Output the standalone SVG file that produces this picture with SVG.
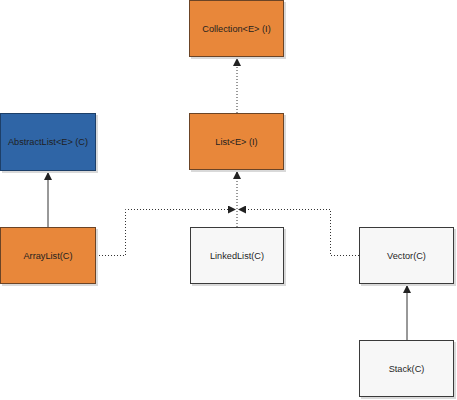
<svg xmlns="http://www.w3.org/2000/svg" width="457" height="400" viewBox="0 0 457 400">
<style>
.sh{fill:#d9d9d9;}
.or{fill:#E8873A;stroke:#6b4426;stroke-width:1;}
.bl{fill:#2F65A6;stroke:#1d3f68;stroke-width:1;}
.wh{fill:#f7f7f7;stroke:#3a3a3a;stroke-width:1;}
text{font-family:"Liberation Sans",Arial,sans-serif;font-size:9.2px;text-anchor:middle;dominant-baseline:central;fill:#1f1f1f;}
.c{fill:none;stroke:#333;stroke-width:1;}
.d{stroke-dasharray:1 2;}
</style>
<defs>
<marker id="ah" viewBox="0 0 10 10" refX="10" refY="5" markerWidth="8" markerHeight="8" markerUnits="userSpaceOnUse" orient="auto">
<path d="M0,0 L10,5 L0,10 z" fill="#222"/>
</marker>
</defs>
<rect width="457" height="400" fill="#fff"/>
<g id="connectors">
<path class="c d" d="M237,113 V58" marker-end="url(#ah)"/>
<path class="c" d="M48,227 V172" marker-end="url(#ah)"/>
<path class="c" d="M407,340 V285" marker-end="url(#ah)"/>
<path class="c d" d="M237,227 V171" marker-end="url(#ah)"/>
<path class="c d" d="M96,255.5 H125.5 V209.5 H236" marker-end="url(#ah)"/>
<path class="c d" d="M359,255.5 H330.5 V209.5 H238" marker-end="url(#ah)"/>
</g>
<g id="collection">
<rect class="sh" x="191" y="2" width="95" height="57"/>
<rect class="or" x="189.5" y="0.5" width="94" height="56"/>
<text x="236.5" y="28.5">Collection&lt;E&gt; (I)</text>
</g>
<g id="list">
<rect class="sh" x="191" y="115" width="95" height="57"/>
<rect class="or" x="189.5" y="113.5" width="94" height="56"/>
<text x="236.5" y="141.5">List&lt;E&gt; (I)</text>
</g>
<g id="abstractlist">
<rect class="sh" x="2" y="115" width="96" height="58"/>
<rect class="bl" x="0.5" y="113.5" width="95" height="57"/>
<text x="48" y="142">AbstractList&lt;E&gt; (C)</text>
</g>
<g id="arraylist">
<rect class="sh" x="2" y="229" width="96" height="57"/>
<rect class="or" x="0.5" y="227.5" width="95" height="56"/>
<text x="48" y="255.5">ArrayList(C)</text>
</g>
<g id="linkedlist">
<rect class="sh" x="192" y="229" width="94" height="57"/>
<rect class="wh" x="190.5" y="227.5" width="93" height="56"/>
<text x="237" y="255.5">LinkedList(C)</text>
</g>
<g id="vector">
<rect class="sh" x="361" y="229" width="95" height="57"/>
<rect class="wh" x="359.5" y="227.5" width="94" height="56"/>
<text x="406.5" y="255.5">Vector(C)</text>
</g>
<g id="stack">
<rect class="sh" x="361" y="342" width="95" height="57"/>
<rect class="wh" x="359.5" y="340.5" width="94" height="56"/>
<text x="406.5" y="368.5">Stack(C)</text>
</g>
</svg>
